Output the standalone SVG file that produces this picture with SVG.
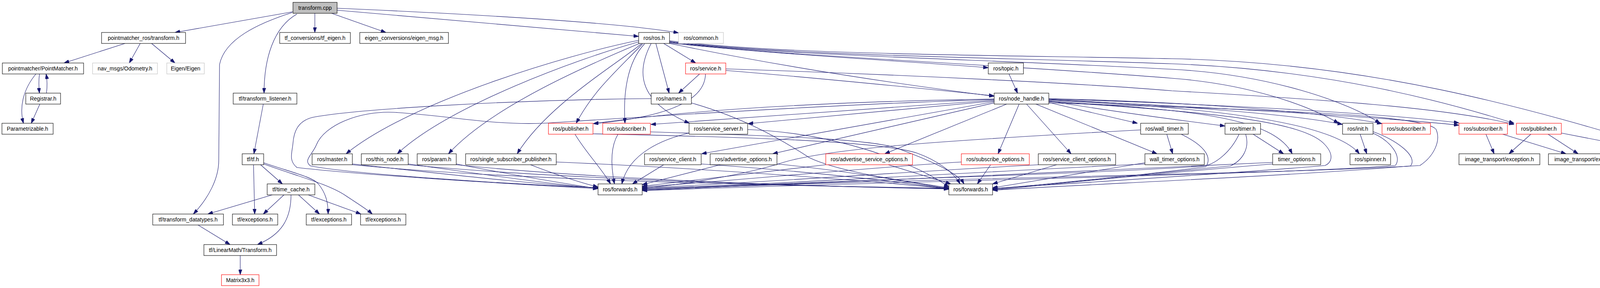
<svg xmlns="http://www.w3.org/2000/svg" width="4517" height="736" viewBox="0 0 4517 736">
<defs>
<marker id="a" markerUnits="userSpaceOnUse" markerWidth="13" markerHeight="9" refX="13" refY="4.5" orient="auto"><path d="M0,0 L13,4.5 L0,9 z" fill="#191970" stroke="#191970" stroke-width="1"/></marker>
<style>
.n rect{fill:#fff;stroke:#000;stroke-width:1.1}
.r rect{stroke:#ff0000}
.g rect{stroke:#bfbfbf}
.root rect{fill:#bfbfbf}
text{font-family:"Liberation Sans",Arial,sans-serif;font-size:14px;text-anchor:middle;fill:#000}
#edges path{fill:none;stroke:#191970;stroke-width:1.1;marker-end:url(#a)}
</style>
</defs>
<rect width="4517" height="736" fill="#fff"/>
<g id="edges">
<path d="M750,30 L448,83"/>
<path d="M806,34 L806,83"/>
<path d="M849,34 L988,83"/>
<path d="M862,26 L1635,93"/>
<path d="M862,21 C1300,40 1600,60 1737,84"/>
<path d="M760,36 C700,70 676,150 676,238"/>
<path d="M748,32 C660,60 575,100 562,165 L560,410 C560,455 535,505 495,547"/>
<path d="M320,111 L164,161"/>
<path d="M359,111 L331,161"/>
<path d="M388,111 L448,161"/>
<path d="M101,189 C99,205 99,220 101,238"/>
<path d="M119,238 C121,222 121,205 118,189"/>
<path d="M92,189 C62,225 48,270 60,315"/>
<path d="M102,266 L80,315"/>
<path d="M674,266 L650,393"/>
<path d="M649,421 L652,547"/>
<path d="M667,421 L723,470"/>
<path d="M675,416 C745,440 800,452 815,470 C833,492 840,515 840,547"/>
<path d="M675,419 C760,450 840,470 885,500 C915,520 940,535 953,547"/>
<path d="M697,498 L532,547"/>
<path d="M727,498 L674,547"/>
<path d="M764,498 L818,547"/>
<path d="M789,498 L924,547"/>
<path d="M745,498 C745,560 720,600 659,625"/>
<path d="M507,575 L589,625"/>
<path d="M615,653 L615,702"/>
<path d="M1699,111 L1781,161"/>
<path d="M1679,111 L1713,238"/>
<path d="M1667,111 C1625,190 1640,262 1765,315"/>
<path d="M1650,112 C1605,160 1595,240 1600,315"/>
<path d="M1645,112 C1580,180 1520,230 1475,315"/>
<path d="M1635,103 C1450,140 1050,260 886,393"/>
<path d="M1635,107 C1480,150 1150,270 1017,393"/>
<path d="M1637,111 C1520,160 1260,270 1148,393"/>
<path d="M1642,112 C1570,170 1400,270 1324,393"/>
<path d="M1714,110 C2000,140 2300,155 2530,173"/>
<path d="M1714,111 C2000,170 2300,215 2545,246"/>
<path d="M1714,104 C2000,140 2500,140 3000,150 C3500,160 3900,270 4297,393"/>
<path d="M1714,106 C2000,142 2500,145 3000,163 C3400,178 3700,260 3876,315"/>
<path d="M1714,107 C2000,143 2500,150 3000,177 C3250,190 3450,260 3533,315"/>
<path d="M1714,108 C2000,144 2500,160 3000,200 C3200,215 3350,270 3427,315"/>
<path d="M1791,189 L1737,238"/>
<path d="M1806,189 C1805,260 1700,300 1519,316"/>
<path d="M1858,180 C2100,200 2350,225 2545,245"/>
<path d="M1858,176 C2300,190 2800,215 3000,232 C3400,255 3700,275 3876,318"/>
<path d="M2583,189 L2605,238"/>
<path d="M1770,263 C1900,300 1990,350 2072,403 C2150,440 2300,460 2429,480"/>
<path d="M1667,252 C1300,255 900,280 800,300 C760,310 752,340 750,366 C748,390 738,410 760,428 C900,445 1300,470 1531,482"/>
<path d="M2685,262 L2912,315"/>
<path d="M2685,258 C2850,285 3000,305 3136,322"/>
<path d="M2685,254 C3000,270 3300,290 3437,318"/>
<path d="M2685,252 C3100,262 3400,290 3538,316"/>
<path d="M2685,253 C3000,262 3500,285 3735,314"/>
<path d="M2685,255 C3000,270 3500,295 3735,320"/>
<path d="M2685,257 C3150,275 3420,320 3480,393"/>
<path d="M2685,259 C3050,280 3260,300 3308,393"/>
<path d="M2652,266 L2962,393"/>
<path d="M2628,266 L2742,393"/>
<path d="M2609,266 L2555,393"/>
<path d="M2577,266 L2265,393"/>
<path d="M2545,263 L1978,393"/>
<path d="M2545,260 L1796,393"/>
<path d="M2545,258 L1915,316"/>
<path d="M2545,256 L1666,318"/>
<path d="M2545,253 C2000,262 1700,290 1519,316"/>
<path d="M2545,254 C2100,268 1550,305 1390,315 C1250,320 1150,295 1007,287 C920,283 830,320 810,370 C800,395 775,410 795,424 C900,445 1300,470 1531,480"/>
<path d="M2685,260 C3100,285 3340,310 3392,370 C3415,395 3410,415 3392,423 C3200,440 2800,465 2541,482"/>
<path d="M2685,263 C3200,280 3640,290 3676,330 C3690,360 3670,400 3635,423 C3300,445 2300,455 1644,486"/>
<path d="M1472,343 C1500,390 1540,430 1563,470"/>
<path d="M1518,342 C1900,350 2250,360 2347,391 C2400,410 2440,440 2458,470"/>
<path d="M1582,343 C1560,380 1565,430 1573,470"/>
<path d="M1665,337 C1900,345 2230,352 2300,380 C2380,410 2450,440 2468,470"/>
<path d="M1764,340 C1700,355 1610,390 1592,470"/>
<path d="M1913,331 C2150,340 2350,420 2429,478"/>
<path d="M2920,332 C2400,360 2100,380 1990,420 C1850,460 1700,475 1644,482"/>
<path d="M3024,343 C3080,370 3105,400 3087,426 C2900,450 2700,470 2541,482"/>
<path d="M3172,343 C3150,390 3110,420 3082,424 C2800,445 2300,455 1644,484"/>
<path d="M3189,343 C3200,380 3180,410 3150,424 C2900,450 2700,470 2541,484"/>
<path d="M3258,415 C2800,440 2100,465 1644,486"/>
<path d="M3258,419 C3000,440 2700,470 2541,486"/>
<path d="M2931,416 L2541,480"/>
<path d="M2931,419 C2500,440 2000,470 1644,482"/>
<path d="M2705,421 L2541,470"/>
<path d="M2658,421 C2300,440 1900,470 1644,480"/>
<path d="M2536,421 L2502,470"/>
<path d="M2461,414 C2200,430 1900,460 1644,478"/>
<path d="M2274,421 L2434,470"/>
<path d="M2114,421 L1644,476"/>
<path d="M1844,421 L1644,472"/>
<path d="M1989,419 C2200,440 2350,470 2429,482"/>
<path d="M1699,421 L1619,470"/>
<path d="M1795,419 C2100,440 2350,470 2429,484"/>
<path d="M902,419 C1100,440 1350,470 1531,480"/>
<path d="M902,421 C1300,460 2000,475 2429,481"/>
<path d="M1045,419 C1200,440 1400,470 1531,481"/>
<path d="M1045,421 C1400,455 2000,475 2429,482"/>
<path d="M1168,419 C1300,445 1450,470 1531,482"/>
<path d="M1168,421 C1500,455 2000,475 2429,483"/>
<path d="M1358,421 C1420,445 1480,465 1531,478"/>
<path d="M1424,414 C1800,430 2200,460 2429,482"/>
<path d="M3514,340 C3560,360 3590,400 3572,423 C3300,445 2400,460 1644,487"/>
<path d="M3514,336 C3580,360 3630,400 3611,424 C3300,450 2800,470 2541,486"/>
<path d="M3804,343 L3825,393"/>
<path d="M3847,343 L4009,393"/>
<path d="M3919,343 L3863,393"/>
<path d="M3963,343 L4040,393"/>
<path d="M3997,340 C4100,360 4200,380 4271,393"/>
<path d="M2987,343 L3002,393"/>
<path d="M3208,343 L3286,393"/>
<path d="M3482,343 L3499,393"/>
</g>
<g id="n0" class="n root"><rect x="750" y="6" width="113" height="28"/><text x="806.5" y="25">transform.cpp</text></g>
<g id="n1" class="n"><rect x="260" y="83" width="215" height="28"/><text x="367.5" y="102">pointmatcher_ros/transform.h</text></g>
<g id="n2" class="n"><rect x="716" y="83" width="181" height="28"/><text x="806.5" y="102">tf_conversions/tf_eigen.h</text></g>
<g id="n3" class="n"><rect x="921" y="83" width="227" height="28"/><text x="1034.5" y="102">eigen_conversions/eigen_msg.h</text></g>
<g id="n4" class="n"><rect x="1635" y="83" width="79" height="28"/><text x="1674.5" y="102">ros/ros.h</text></g>
<g id="n5" class="n g"><rect x="1737" y="83" width="115" height="28"/><text x="1794.5" y="102">ros/common.h</text></g>
<g id="n6" class="n"><rect x="6" y="161" width="208" height="28"/><text x="110" y="180">pointmatcher/PointMatcher.h</text></g>
<g id="n7" class="n g"><rect x="237" y="161" width="166" height="28"/><text x="320" y="180">nav_msgs/Odometry.h</text></g>
<g id="n8" class="n g"><rect x="427" y="161" width="96" height="28"/><text x="475" y="180">Eigen/Eigen</text></g>
<g id="n9" class="n r"><rect x="1755" y="161" width="103" height="28"/><text x="1806.5" y="180">ros/service.h</text></g>
<g id="n10" class="n"><rect x="2530" y="161" width="90" height="28"/><text x="2575" y="180">ros/topic.h</text></g>
<g id="n11" class="n"><rect x="66" y="238" width="89" height="28"/><text x="110.5" y="257">Registrar.h</text></g>
<g id="n12" class="n"><rect x="597" y="238" width="163" height="28"/><text x="678.5" y="257">tf/transform_listener.h</text></g>
<g id="n13" class="n"><rect x="1667" y="238" width="103" height="28"/><text x="1718.5" y="257">ros/names.h</text></g>
<g id="n14" class="n"><rect x="2545" y="238" width="140" height="28"/><text x="2615" y="257">ros/node_handle.h</text></g>
<g id="n15" class="n"><rect x="5" y="315" width="131" height="28"/><text x="70.5" y="334">Parametrizable.h</text></g>
<g id="n16" class="n r"><rect x="1404" y="315" width="114" height="28"/><text x="1461" y="334">ros/publisher.h</text></g>
<g id="n17" class="n r"><rect x="1543" y="315" width="122" height="28"/><text x="1604" y="334">ros/subscriber.h</text></g>
<g id="n18" class="n"><rect x="1764" y="315" width="150" height="28"/><text x="1839" y="334">ros/service_server.h</text></g>
<g id="n19" class="n"><rect x="2920" y="315" width="122" height="28"/><text x="2981" y="334">ros/wall_timer.h</text></g>
<g id="n20" class="n"><rect x="3136" y="315" width="91" height="28"/><text x="3181.5" y="334">ros/timer.h</text></g>
<g id="n21" class="n"><rect x="3437" y="315" width="78" height="28"/><text x="3476" y="334">ros/init.h</text></g>
<g id="n22" class="n r"><rect x="3538" y="315" width="124" height="28"/><text x="3600" y="334">ros/subscriber.h</text></g>
<g id="n23" class="n r"><rect x="3735" y="315" width="124" height="28"/><text x="3797" y="334">ros/subscriber.h</text></g>
<g id="n24" class="n r"><rect x="3882" y="315" width="115" height="28"/><text x="3939.5" y="334">ros/publisher.h</text></g>
<g id="n25" class="n"><rect x="620" y="393" width="55" height="28"/><text x="647.5" y="412">tf/tf.h</text></g>
<g id="n26" class="n"><rect x="799" y="393" width="103" height="28"/><text x="850.5" y="412">ros/master.h</text></g>
<g id="n27" class="n"><rect x="925" y="393" width="120" height="28"/><text x="985" y="412">ros/this_node.h</text></g>
<g id="n28" class="n"><rect x="1068" y="393" width="100" height="28"/><text x="1118" y="412">ros/param.h</text></g>
<g id="n29" class="n"><rect x="1192" y="393" width="232" height="28"/><text x="1308" y="412">ros/single_subscriber_publisher.h</text></g>
<g id="n30" class="n"><rect x="1650" y="393" width="145" height="28"/><text x="1722.5" y="412">ros/service_client.h</text></g>
<g id="n31" class="n"><rect x="1818" y="393" width="171" height="28"/><text x="1903.5" y="412">ros/advertise_options.h</text></g>
<g id="n32" class="n r"><rect x="2114" y="393" width="222" height="28"/><text x="2225" y="412">ros/advertise_service_options.h</text></g>
<g id="n33" class="n r"><rect x="2461" y="393" width="174" height="28"/><text x="2548" y="412">ros/subscribe_options.h</text></g>
<g id="n34" class="n"><rect x="2658" y="393" width="198" height="28"/><text x="2757" y="412">ros/service_client_options.h</text></g>
<g id="n35" class="n"><rect x="2931" y="393" width="152" height="28"/><text x="3007" y="412">wall_timer_options.h</text></g>
<g id="n36" class="n"><rect x="3258" y="393" width="123" height="28"/><text x="3319.5" y="412">timer_options.h</text></g>
<g id="n37" class="n"><rect x="3456" y="393" width="104" height="28"/><text x="3508" y="412">ros/spinner.h</text></g>
<g id="n38" class="n"><rect x="3735" y="393" width="207" height="28"/><text x="3838.5" y="412">image_transport/exception.h</text></g>
<g id="n39" class="n"><rect x="3964" y="393" width="207" height="28"/><text x="4067.5" y="412">image_transport/exception.h</text></g>
<g id="n40" class="n"><rect x="4194" y="393" width="318" height="28"/><text x="4353" y="412">image_transport/single_subscriber_publisher.h</text></g>
<g id="n41" class="n"><rect x="684" y="470" width="122" height="28"/><text x="745" y="489">tf/time_cache.h</text></g>
<g id="n42" class="n"><rect x="1531" y="470" width="113" height="28"/><text x="1587.5" y="489">ros/forwards.h</text></g>
<g id="n43" class="n"><rect x="2429" y="470" width="112" height="28"/><text x="2485" y="489">ros/forwards.h</text></g>
<g id="n44" class="n"><rect x="391" y="547" width="181" height="28"/><text x="481.5" y="566">tf/transform_datatypes.h</text></g>
<g id="n45" class="n"><rect x="595" y="547" width="116" height="28"/><text x="653" y="566">tf/exceptions.h</text></g>
<g id="n46" class="n"><rect x="784" y="547" width="116" height="28"/><text x="842" y="566">tf/exceptions.h</text></g>
<g id="n47" class="n"><rect x="923" y="547" width="116" height="28"/><text x="981" y="566">tf/exceptions.h</text></g>
<g id="n48" class="n"><rect x="522" y="625" width="186" height="28"/><text x="615" y="644">tf/LinearMath/Transform.h</text></g>
<g id="n49" class="n r"><rect x="567" y="702" width="96" height="28"/><text x="615" y="721">Matrix3x3.h</text></g>
</svg>
